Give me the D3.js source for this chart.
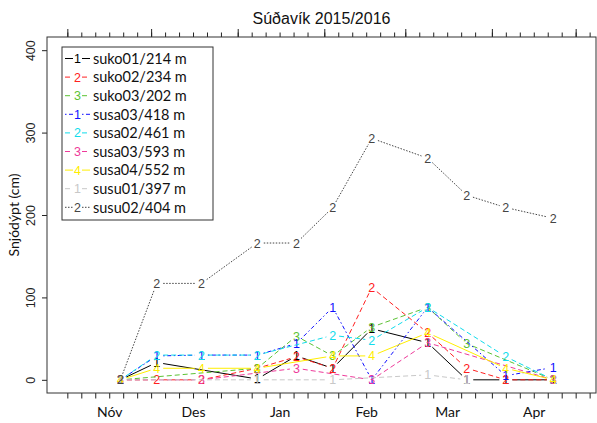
<!DOCTYPE html>
<html>
<head>
<meta charset="utf-8">
<title>Súðavík 2015/2016</title>
<style>
  body { margin: 0; background: #fff; }
  svg { display: block; }
</style>
</head>
<body>
<div id="container"></div>
<script src="https://cdn.jsdelivr.net/npm/d3@7"></script>
<script>
// measurement dates
var dates = ["2015-11-20","2015-12-03","2015-12-19","2016-01-08","2016-01-22","2016-02-04",
             "2016-02-18","2016-03-09","2016-03-23","2016-04-06","2016-04-23"];

// snow depth (cm), null = no reading
var suko01 = [0, 21, null, 1, 29, 14, 62, 45, 0, 0, 0];
var suko02 = [0, 0, 0, 14, 28, 14, 112, 57, 14, 0, 0];
var suko03 = [0, null, null, 14, 53, 29, 64, 88, 44, null, 0];
var susa03a = [0, 29, 30, 30, 44, 88, 0, 88, null, 5, 15];
var susa02 = [0, 30, 30, 30, null, 54, 48, 88, null, 28, 0];
var susa03b = [0, null, 0, null, 14, null, 0, 45, null, null, 0];
var susa04 = [0, 14, 14, 14, null, 29, 29, 57, null, 14, 0];
var susu01 = [0, null, null, 0, null, 0, null, 6, 0, null, null];
var susu02 = [0, 117, 117, 166, 166, 209, 293, 269, 224, 209, 196];

var seriesNames = ["suko01/214 m","suko02/234 m","suko03/202 m","susa03/418 m","susa02/461 m",
                   "susa03/593 m","susa04/552 m","susu01/397 m","susu02/404 m"];
var seriesValues = [suko01, suko02, suko03, susa03a, susa02, susa03b, susa04, susu01, susu02];
var seriesPch = ["1","2","3","1","2","3","4","1","2"];

var monthLabels = ["Nóv","Des","Jan","Feb","Mar","Apr"];
var yTicks = [0, 100, 200, 300, 400];

// styles
var colors = ["#000000","#ff2020","#5cc234","#1010ff","#10dcec","#ee3a9a","#ffee00","#c8c8c8","#444444"];
var dashes = [null,"5,3","5,3","1.5,2.5,4,2.5","5,3","5,3",null,"5,3","1.5,1.5"];

var width = 597, height = 423;
var box = {left: 47, right: 596, top: 37, bottom: 393};

var parse = d3.utcParse("%Y-%m-%d");
var xDates = dates.map(parse);

// R-style 4% extension around the limits
var xlim = [parse("2015-11-01"), parse("2016-05-01")];
var span = xlim[1] - xlim[0];
var x = d3.scaleUtc()
    .domain([new Date(+xlim[0] - span * 0.04), new Date(+xlim[1] + span * 0.04)])
    .range([box.left, box.right]);
var y = d3.scaleLinear()
    .domain([-16, 416])
    .range([box.bottom, box.top]);

var svg = d3.select('#container').append('svg')
    .attr('width', width)
    .attr('height', height);

// ticks every 5 days (1,6,11,16,21,26)
var tickDays = d3.utcDay.range(parse("2015-10-27"), parse("2016-05-08"))
    .filter(function(d){ return [1,6,11,16,21,26].indexOf(d.getUTCDate()) >= 0; });
var monthStarts = d3.utcMonth.range(parse("2015-11-01"), parse("2016-05-02"));
var midMonths = monthStarts.slice(0, 6).map(function(d){ return d3.utcDay.offset(d, 15); });

function styleAxis(g) {
    g.select('.domain').remove();
    g.selectAll('.tick line').attr('stroke', '#222').attr('stroke-width', 1);
}

// bottom ticks
svg.append('g')
    .attr('transform', 'translate(0,' + box.bottom + ')')
    .call(d3.axisBottom(x).tickValues(tickDays).tickSize(5.5).tickFormat(''))
    .call(styleAxis);
// month labels
svg.append('g')
    .attr('transform', 'translate(0,' + box.bottom + ')')
    .call(d3.axisBottom(x).tickValues(midMonths).tickSize(0).tickPadding(14)
          .tickFormat(function(d, i){ return monthLabels[i]; }))
    .call(styleAxis)
    .selectAll('text')
    .attr('font-family', 'Lato, "Open Sans", sans-serif')
    .attr('font-size', 14)
    .attr('fill', '#111');
// top ticks
svg.append('g')
    .attr('transform', 'translate(0,' + box.top + ')')
    .call(d3.axisTop(x).tickValues(tickDays).tickSize(4.5).tickFormat(''))
    .call(styleAxis);
svg.append('g')
    .attr('transform', 'translate(0,' + box.top + ')')
    .call(d3.axisTop(x).tickValues(monthStarts).tickSize(8).tickFormat(''))
    .call(styleAxis);

// y axis
var yAxis = svg.append('g')
    .attr('transform', 'translate(' + box.left + ',0)')
    .call(d3.axisLeft(y).tickValues(yTicks).tickSize(5))
    .call(styleAxis);
yAxis.selectAll('text')
    .attr('x', 0).attr('dy', null)
    .attr('transform', 'translate(-12,0) rotate(-90)')
    .attr('text-anchor', 'middle')
    .attr('font-family', '"Liberation Sans", Arial, sans-serif')
    .attr('font-size', 12.5)
    .attr('fill', '#222');

// box
svg.append('rect')
    .attr('x', box.left).attr('y', box.top)
    .attr('width', box.right - box.left).attr('height', box.bottom - box.top)
    .attr('fill', 'none').attr('stroke', '#333').attr('stroke-width', 1);

// titles
svg.append('text')
    .attr('x', (box.left + box.right) / 2).attr('y', 24)
    .attr('text-anchor', 'middle')
    .attr('font-family', '"Liberation Sans", Arial, sans-serif')
    .attr('font-size', 16)
    .attr('fill', '#111')
    .text('Súðavík 2015/2016');
svg.append('text')
    .attr('transform', 'translate(19,' + ((box.top + box.bottom) / 2) + ') rotate(-90)')
    .attr('text-anchor', 'middle')
    .attr('font-family', 'Lato, "Open Sans", sans-serif')
    .attr('font-size', 14)
    .attr('fill', '#111')
    .text('Snjódýpt (cm)');

// lines with gaps round the points (type="b")
var gap = 6.5;
var plot = svg.append('g');
seriesValues.forEach(function(vals, s) {
    var pts = [];
    vals.forEach(function(v, i) {
        if (v !== null) pts.push([x(xDates[i]), y(v)]);
    });
    var g = plot.append('g');
    for (var i = 0; i < pts.length - 1; i++) {
        var a = pts[i], b = pts[i + 1];
        var dx = b[0] - a[0], dy = b[1] - a[1];
        var len = Math.sqrt(dx * dx + dy * dy);
        if (len <= 2 * gap) continue;
        var ux = dx / len, uy = dy / len;
        g.append('line')
            .attr('x1', a[0] + ux * gap).attr('y1', a[1] + uy * gap)
            .attr('x2', b[0] - ux * gap).attr('y2', b[1] - uy * gap)
            .attr('stroke', colors[s])
            .attr('stroke-width', 1)
            .attr('stroke-dasharray', dashes[s]);
    }
    g.selectAll('text')
        .data(pts)
        .enter()
        .append('text')
        .attr('x', function(d){ return d[0]; })
        .attr('y', function(d){ return d[1]; })
        .attr('dy', '0.36em')
        .attr('text-anchor', 'middle')
        .attr('font-family', '"Liberation Sans", Arial, sans-serif')
        .attr('font-size', 12.5)
        .attr('fill', colors[s])
        .text(seriesPch[s]);
});

// legend
var leg = svg.append('g');
leg.append('rect')
    .attr('x', 62).attr('y', 47).attr('width', 151).attr('height', 173)
    .attr('fill', '#fff').attr('stroke', '#333').attr('stroke-width', 1);
seriesNames.forEach(function(name, i) {
    var ly = 58.5 + i * 18.6;
    var row = leg.append('g').attr('transform', 'translate(0,' + ly + ')');
    row.append('line').attr('x1', 65).attr('x2', 73).attr('y1', 0).attr('y2', 0)
        .attr('stroke', colors[i]).attr('stroke-dasharray', dashes[i]);
    row.append('line').attr('x1', 82).attr('x2', 90).attr('y1', 0).attr('y2', 0)
        .attr('stroke', colors[i]).attr('stroke-dasharray', dashes[i]);
    row.append('text')
        .attr('x', 77.5).attr('y', 0).attr('dy', '0.36em')
        .attr('text-anchor', 'middle')
        .attr('font-family', '"Liberation Sans", Arial, sans-serif')
        .attr('font-size', 12.5)
        .attr('fill', colors[i])
        .text(seriesPch[i]);
    row.append('text')
        .attr('x', 93).attr('y', 0).attr('dy', '0.36em')
        .attr('font-family', 'Lato, "Open Sans", sans-serif')
        .attr('font-size', 14.5)
        .attr('fill', '#111')
        .text(name);
});
</script>
</body>
</html>
